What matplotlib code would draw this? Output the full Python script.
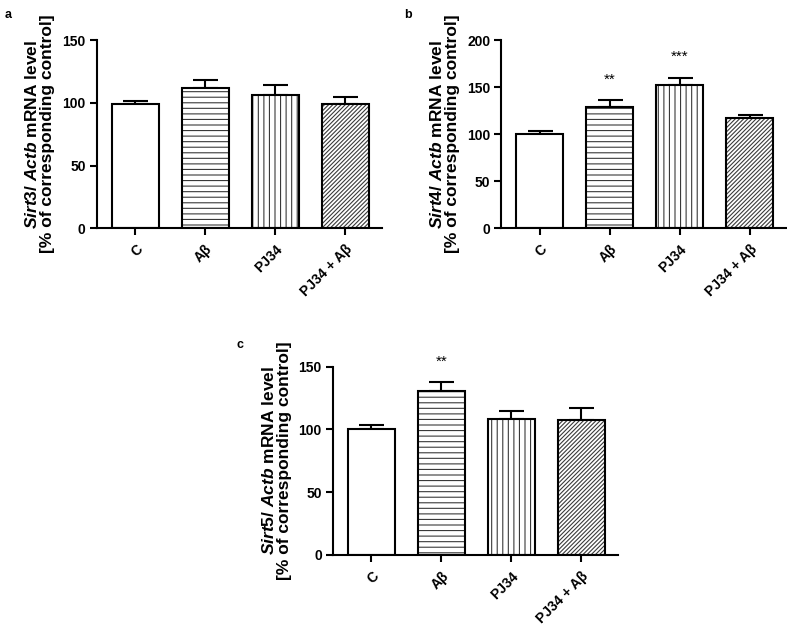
import matplotlib
matplotlib.use("Agg")
import matplotlib.pyplot as plt
import numpy as np

plt.rcParams['font.family'] = 'Liberation Sans'
plt.rcParams['font.weight'] = 'bold'
plt.rcParams['mathtext.fontset'] = 'custom'
plt.rcParams['mathtext.it'] = 'Liberation Sans:italic:bold'
plt.rcParams['mathtext.rm'] = 'Liberation Sans:bold'
plt.rcParams['hatch.linewidth'] = 0.8

# groups and values
groups = ['C', 'Aβ', 'PJ34', 'PJ34 + Aβ']
hatches = ['', '---', '|||', '////////']

sirt3_mean = [99, 111.5, 106, 99]
sirt3_err = [2.5, 6.5, 8, 6]

sirt4_mean = [100, 129, 152, 117]
sirt4_err = [3, 7, 8, 3]
sirt4_stars = ['', '**', '***', '']

sirt5_mean = [100, 131, 108, 107.5]
sirt5_err = [3.5, 6.5, 6.5, 9.5]
sirt5_stars = ['', '**', '', '']

panels = [
    ('a', r'$Sirt3$/ $Actb$ mRNA level', sirt3_mean, sirt3_err, None, 150,
     [0.123, 0.636, 0.362, 0.300], (0.006, 0.985)),
    ('b', r'$Sirt4$/ $Actb$ mRNA level', sirt4_mean, sirt4_err, sirt4_stars, 200,
     [0.637, 0.636, 0.362, 0.300], (0.513, 0.985)),
    ('c', r'$Sirt5$/ $Actb$ mRNA level', sirt5_mean, sirt5_err, sirt5_stars, 150,
     [0.423, 0.115, 0.362, 0.300], (0.300, 0.460)),
]

fig = plt.figure(figsize=(7.87, 6.27), dpi=100)

for letter, lab, mean, err, stars, ymax, pos, lpos in panels:
    ax = fig.add_axes(pos)
    x = np.arange(len(groups))
    # hatch layer
    for xi, m, h in zip(x, mean, hatches):
        ax.bar(xi, m, width=0.67, color='white', edgecolor='#3a3a3a',
               linewidth=0, hatch=h, zorder=2)
    # outline
    ax.bar(x, mean, width=0.67, color='none', edgecolor='black',
           linewidth=1.5, zorder=3)
    ax.errorbar(x, mean, yerr=[np.zeros(len(err)), err], fmt='none',
                ecolor='black', elinewidth=1.5, capsize=9, capthick=1.5, zorder=1)
    if stars:
        for xi, m, e, s in zip(x, mean, err, stars):
            if s:
                ax.text(xi, m + e + (0.11 * ymax), s, ha='center', va='center',
                        fontsize=11, fontweight='normal')
    ax.set_xlim(-0.55, 3.52)
    ax.set_ylim(0, ymax)
    ax.set_yticks(np.arange(0, ymax + 1, 50))
    ax.set_xticks(x)
    ax.set_xticklabels(groups, rotation=45, ha='right', rotation_mode='anchor')
    ax.tick_params(labelsize=10, width=1.5, length=5, pad=3)
    ax.tick_params(axis='x', pad=5)
    for sp in ['top', 'right']:
        ax.spines[sp].set_visible(False)
    for sp in ['left', 'bottom']:
        ax.spines[sp].set_linewidth(1.5)
    ax.set_ylabel(lab + '\n[% of corresponding control]', fontsize=12.5,
                  fontweight='bold', labelpad=5, linespacing=1.0)
    fig.text(lpos[0], lpos[1], letter, fontsize=9, fontweight='bold',
             ha='left', va='top')

fig.savefig('out.png', dpi=100)
